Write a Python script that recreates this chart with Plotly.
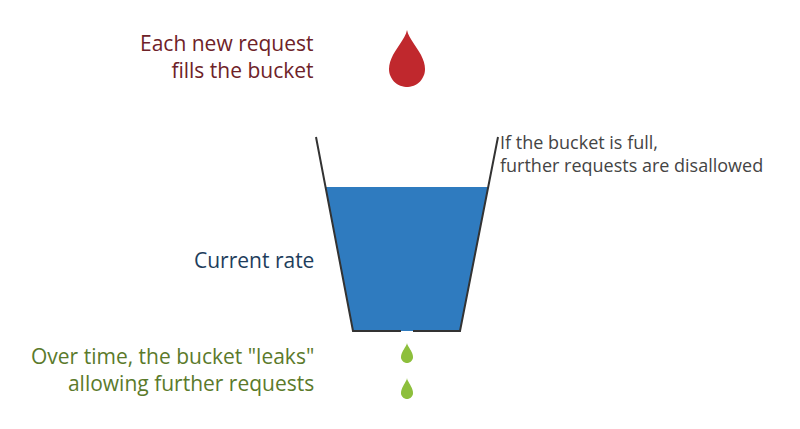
import numpy as np
import plotly.graph_objects as go

# bucket geometry (pixel-like units, y grows downward)
bucket_x = [316, 353, 460, 498]
bucket_y = [137, 331, 331, 137]
water_top = 187
gap_x = [401, 413]

# drops: center x, top y, bottom y, colour
drop_x = [407, 407, 407]
drop_top = [30, 343, 378]
drop_bottom = [87, 363, 399]
drop_width = [36, 12, 12]
drop_color = ['#c0282d', '#8dbf3c', '#8dbf3c']

labels = ['Each new request<br>fills the bucket', 'Current rate',
          'Over time, the bucket "leaks"<br>allowing further requests']
label_y = [56, 260, 369]
label_color = ['#6e2228', '#1e3d5c', '#5b7a2b']
note = 'If the bucket is full,<br>further requests are disallowed'

fig = go.Figure()


def drop_path(cx, top, bottom, w):
    r = w / 2
    cy = bottom - r
    t = np.linspace(0, np.pi, 30)
    pts = [(cx, top)]
    for s in np.linspace(0, 1, 12)[1:]:
        pts.append((cx + r * np.sin(s * np.pi / 2) ** 1.5, top + (cy - top) * s))
    for a in t:
        pts.append((cx + r * np.cos(a), cy + r * np.sin(a)))
    for s in np.linspace(1, 0, 12)[1:]:
        pts.append((cx - r * np.sin(s * np.pi / 2) ** 1.5, top + (cy - top) * s))
    return 'M ' + ' L '.join(f'{x:.1f},{y:.1f}' for x, y in pts) + ' Z'


# water
lx = bucket_x[0] + (bucket_x[1] - bucket_x[0]) * (water_top - bucket_y[0]) / (bucket_y[1] - bucket_y[0])
rx = bucket_x[3] - (bucket_x[3] - bucket_x[2]) * (water_top - bucket_y[0]) / (bucket_y[1] - bucket_y[0])
fig.add_trace(go.Scatter(x=[lx, rx, bucket_x[2], bucket_x[1], lx],
                         y=[water_top, water_top, bucket_y[2], bucket_y[1], water_top],
                         fill='toself', fillcolor='#2f7bbf', mode='none', hoverinfo='skip'))
# bucket outline with leak gap
fig.add_trace(go.Scatter(x=[bucket_x[0], bucket_x[1], gap_x[0], None, gap_x[1], bucket_x[2], bucket_x[3]],
                         y=[bucket_y[0], bucket_y[1], bucket_y[1], None, bucket_y[2], bucket_y[2], bucket_y[3]],
                         mode='lines', line=dict(color='#333333', width=2), hoverinfo='skip'))

for cx, t0, b0, w, c in zip(drop_x, drop_top, drop_bottom, drop_width, drop_color):
    fig.add_shape(type='path', path=drop_path(cx, t0, b0, w), fillcolor=c, line_width=0)

for txt, y, c in zip(labels, label_y, label_color):
    fig.add_annotation(x=316, y=y, text=txt, showarrow=False, xanchor='right', align='right',
                       font=dict(family='Open Sans', size=21, color=c))
fig.add_annotation(x=498, y=153, text=note, showarrow=False, xanchor='left', align='left',
                   font=dict(family='Open Sans', size=18, color='#444444'))

# page body has an 8px margin, so offset the ranges to keep pixel coordinates
fig.update_xaxes(range=[8, 808], visible=False)
fig.update_yaxes(range=[437, 8], visible=False)
fig.update_layout(width=800, height=429, margin=dict(l=0, r=0, t=0, b=0),
                  showlegend=False, plot_bgcolor='white', paper_bgcolor='white')
fig.write_html("out.html")
